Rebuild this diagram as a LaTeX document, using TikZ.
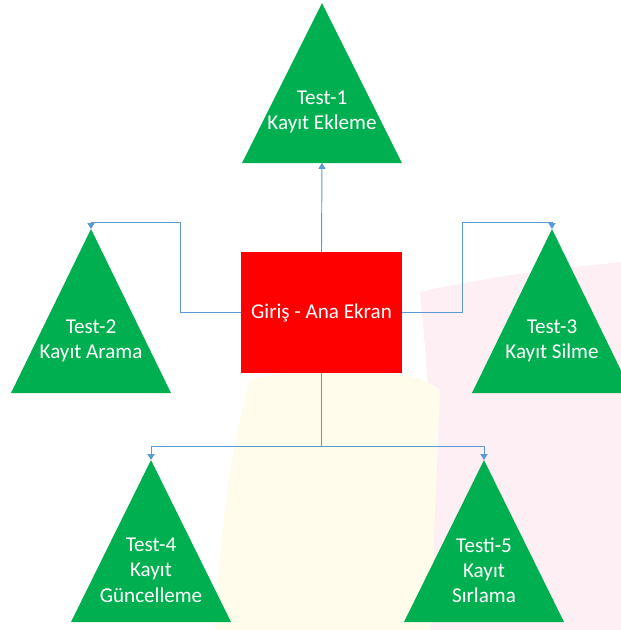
\documentclass[tikz,border=0pt]{standalone}
\usepackage{fontspec}
\setmainfont{Carlito}
\usetikzlibrary{arrows.meta,positioning}
\definecolor{Leaf}{HTML}{00B050}
\definecolor{Signal}{HTML}{FF0000}
\definecolor{Wire}{HTML}{5B9BD5}
\definecolor{Blush}{HTML}{FDEFF4}
\definecolor{Cream}{HTML}{FFFCEC}
\tikzset{link/.style={-{Triangle[length=5pt,width=6pt]},draw=Wire,line width=.8pt},
  wire/.style={draw=Wire,line width=.8pt},
  tritext/.style={text=white,align=center,font=\fontsize{18}{21.5}\selectfont},
  screen/.style={fill=Signal,minimum width=4.83cm,minimum height=3.63cm,inner sep=0pt,text=white,font=\fontsize{18}{21.5}\selectfont}}
% test triangle: name, apex x, apex y, height, text
\newcommand\testtri[5]{%
  \coordinate (#1) at (#2,#3);
  \path (#1) ++(0,-7) coordinate (#1-top);
  \path (#1) ++(0,#4) coordinate (#1-b);
  \fill[Leaf] (#1) -- ++(-80,#4) -- ++(160,0) -- cycle;
  \path (#1) ++(0,{0.68*#4}) node[tritext] (#1-txt) {#5};}

\begin{document}
\begin{tikzpicture}[x=0.03cm,y=-0.03cm]
\clip (0,0) rectangle (621,630);
\fill[white] (0,0) rectangle (621,630);
% faint background
\fill[Blush] (420,292) .. controls (520,270) and (600,265) .. (621,262) -- (621,630) -- (430,630) .. controls (440,520) and (430,400) .. cycle;
\fill[Cream] (250,380) .. controls (330,360) and (420,370) .. (440,390) -- (430,630) -- (215,630) .. controls (220,520) and (235,430) .. cycle;

\node[screen] (home) at (321.5,312.5) {Giriş - Ana Ekran};

\testtri{t1}{322}{3}{160}{Test-1\\Kayıt Ekleme}
\testtri{t2}{91}{229}{164}{Test-2\\Kayıt Arama}
\testtri{t3}{552}{229}{164}{Test-3\\Kayıt Silme}
\testtri{t4}{151}{460}{162}{Test-4\\Kayıt\\Güncelleme}
\testtri{t5}{484}{460}{162}{Testi-5\\Kayıt\\Sırlama}

\draw[link] (home.north) -- (t1-b);
\draw[link] (home.west) -- ++(-60,0) |- (t2-top) -- (t2);
\draw[link] (home.east) -- ++(60,0) |- (t3-top) -- (t3);
\draw[wire] (home.south) -- ++(0,73) coordinate (split);
\draw[link] (split) -| (t4);
\draw[link] (split) -| (t5);
\end{tikzpicture}
\end{document}
